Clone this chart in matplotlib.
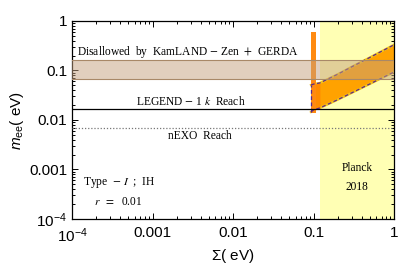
import numpy as np
import matplotlib
matplotlib.use("Agg")
import matplotlib.pyplot as plt
from matplotlib.ticker import FixedLocator, LogLocator, NullFormatter

plt.rcParams['mathtext.fontset'] = 'custom'
plt.rcParams['mathtext.rm'] = 'Liberation Sans'
plt.rcParams['mathtext.it'] = 'Liberation Sans:italic'
plt.rcParams['font.family'] = 'Liberation Sans'

# experimental limits / reaches
kamland_lo, kamland_hi = 0.068, 0.16
legend_reach = 0.017
nexo_reach = 0.007
planck_sigma = 0.12

# allowed region (Type-I, IH, r = 0.01)
band_sigma = [0.093, 0.1, 0.12, 0.2, 0.3, 0.5, 0.7, 1.0]
band_upper = [0.051, 0.053, 0.056, 0.084, 0.119, 0.183, 0.244, 0.33]
band_lower = [0.0145, 0.016, 0.0175, 0.0257, 0.0355, 0.0534, 0.070, 0.093]
strip_sigma = [0.093, 0.106]
strip_lo, strip_hi = 0.014, 0.6

xticks = [1e-4, 1e-3, 1e-2, 1e-1, 1]
xlabels = [r'$10^{-4}$', '0.001', '0.01', '0.1', '1']
yticks = [1e-4, 1e-3, 1e-2, 1e-1, 1]
ylabels = [r'$10^{-4}$', '0.001', '0.01', '0.1', '1']

fig = plt.figure(figsize=(4, 2.69), dpi=100)
ax = fig.add_axes([0.18, 0.186, 0.805, 0.736])
ax.set_xscale('log')
ax.set_yscale('log')
ax.set_xlim(1e-4, 1)
ax.set_ylim(1e-4, 1)

# Planck region
ax.axvspan(planck_sigma, 1, color='#ffffb4', zorder=0, lw=0)

# allowed band
bs = np.array(band_sigma)
ax.fill_between(bs, band_lower, band_upper, color='#ffa200', lw=0, zorder=2)
ax.plot(bs, band_upper, color='#f2c21a', lw=1.6, zorder=2.1)
ax.plot(bs, band_lower, color='#f2c21a', lw=1.6, zorder=2.1)
m = bs <= planck_sigma
ax.fill_between(bs[m], np.array(band_lower)[m], np.array(band_upper)[m],
                color='#ff8a00', lw=0, zorder=2.2)
ax.fill_between(strip_sigma, [strip_lo] * 2, [strip_hi] * 2,
                color='#ff8a12', lw=0, zorder=2.3)
ax.plot(bs, band_upper, color='#5a2a8a', lw=0.9, ls=(0, (3, 2)), zorder=3)
ax.plot(bs, band_lower, color='#5a2a8a', lw=0.9, ls=(0, (3, 2)), zorder=3)
ax.plot([bs[0], bs[0]], [band_lower[0], band_upper[0]], color='#5a2a8a',
        lw=0.9, ls=(0, (3, 2)), zorder=3)

# KamLAND-Zen + GERDA
ax.axhspan(kamland_lo, kamland_hi, facecolor='#c4a07e', alpha=0.5, lw=0, zorder=4)
ax.axhline(kamland_lo, color='#a88868', lw=0.8, zorder=4)
ax.axhline(kamland_hi, color='#a88868', lw=0.8, zorder=4)

ax.axhline(legend_reach, color='black', lw=0.9, zorder=5)
ax.axhline(nexo_reach, color='#777777', lw=0.9, ls=(0, (1, 1.5)), zorder=5)

serif = dict(family='Liberation Serif', math_fontfamily='stix', fontsize=8.3,
             ha='center', va='center', zorder=6)
ax.text(0.00276, 0.237, r'Disallowed  by  KamLAND $-$ Zen  $+$  GERDA', **serif)
ax.text(0.0030, 0.0231, r'LEGEND $-$ 1 $k$  Reach', **serif)
ax.text(0.0039, 0.00475, 'nEXO  Reach', **serif)
ax.text(0.00038, 0.00054, r'Type  $-$ $I$  ;  IH', **serif)
ax.text(0.00038, 0.00022, r'$r$  $=$  0.01', **serif)
ax.text(0.35, 0.00107, 'Planck', **serif)
ax.text(0.35, 0.00044, '2018', **serif)

ax.xaxis.set_major_locator(FixedLocator(xticks))
ax.set_xticklabels(xlabels)
ax.yaxis.set_major_locator(FixedLocator(yticks))
ax.set_yticklabels(ylabels)
ax.xaxis.set_minor_locator(LogLocator(base=10, subs=np.arange(2, 10), numticks=20))
ax.yaxis.set_minor_locator(LogLocator(base=10, subs=np.arange(2, 10), numticks=20))
ax.xaxis.set_minor_formatter(NullFormatter())
ax.yaxis.set_minor_formatter(NullFormatter())
ax.tick_params(which='both', direction='in', top=True, right=True, labelsize=11,
               width=0.7, colors='black')
ax.tick_params(which='major', length=4)
ax.tick_params(which='minor', length=2)
ax.tick_params(axis='x', pad=5)
for s in ax.spines.values():
    s.set_linewidth(0.9)

ax.set_xlabel(r'$\Sigma$( eV)', fontsize=11, labelpad=2)
ax.set_ylabel(r'$m_{\rm ee}$( eV)', fontsize=11, labelpad=2)

fig.savefig('out.png', dpi=100)
